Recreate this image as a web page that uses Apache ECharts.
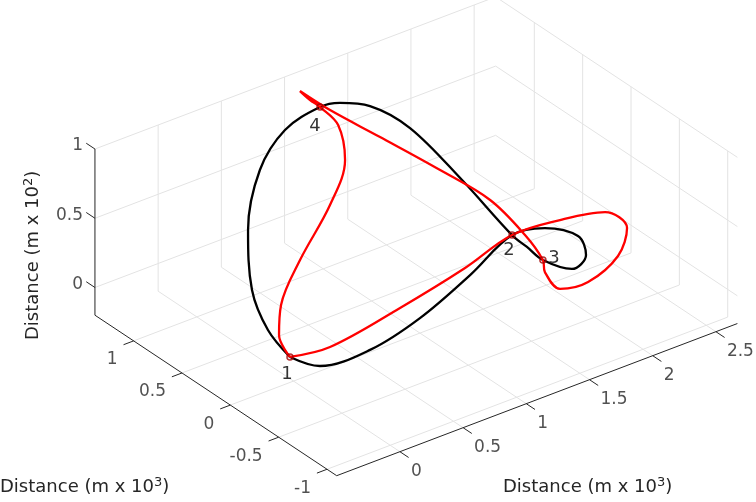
<!DOCTYPE html>
<html>
<head>
<meta charset="utf-8">
<script src="https://cdn.jsdelivr.net/npm/echarts@6/dist/echarts.min.js"></script>
<style>html,body{margin:0;padding:0;background:#fff}#main{width:756px;height:502px}</style>
</head>
<body>
<div id="main"></div>
<script>
// axis ranges and ticks
var xRange = [-0.5, 2.67], yRange = [-1.1, 1.4], zRange = [-0.2, 1];
var xTicks = [0, 0.5, 1, 1.5, 2, 2.5];
var yTicks = [-1, -0.5, 0, 0.5, 1];
var zTicks = [0, 0.5, 1];
var xTickLabels = ['0', '0.5', '1', '1.5', '2', '2.5'];
var yTickLabels = ['-1', '-0.5', '0', '0.5', '1'];
var zTickLabels = ['0', '0.5', '1'];

// trajectories [x, y, z]
var blackPath = [
	[-0.045, -0.022, 0], [0.016, -0.252, 0.02], [0.359, -0.322, 0.05], [0.799, -0.263, 0.1],
	[1.325, -0.094, 0.15], [1.787, 0.076, 0.2], [1.984, -0.006, 0.22], [2.090, -0.210, 0.22],
	[2.008, -0.400, 0.2], [1.852, -0.458, 0.18], [1.774, -0.260, 0.18], [1.719, -0.167, 0.25],
	[1.681, -0.062, 0.3], [1.637, 0.397, 0.5], [1.507, 0.765, 0.75], [1.315, 0.928, 0.9],
	[1.114, 0.976, 0.97], [0.951, 0.969, 1], [0.653, 0.942, 0.95], [0.381, 0.846, 0.8],
	[0.077, 0.571, 0.6], [-0.096, 0.304, 0.35], [-0.109, 0.122, 0.15], [-0.045, -0.022, 0]
];
var redPath = [
	[-0.045, -0.022, 0], [0.200, -0.116, 0.03], [0.796, -0.061, 0.08], [1.363, 0.008, 0.14],
	[1.787, 0.076, 0.2], [2.121, 0.017, 0.22], [2.408, -0.074, 0.22], [2.419, -0.287, 0.2],
	[2.193, -0.489, 0.17], [1.876, -0.594, 0.14], [1.693, -0.543, 0.13], [1.724, -0.346, 0.15],
	[1.774, -0.260, 0.18], [1.800, -0.041, 0.25], [1.732, 0.231, 0.4], [1.550, 0.510, 0.55],
	[1.288, 0.789, 0.75], [1.083, 1.038, 0.9], [0.971, 1.203, 1], [0.954, 1.076, 1],
	[0.951, 0.969, 1], [0.958, 0.791, 0.95], [0.833, 0.556, 0.85], [0.573, 0.372, 0.7],
	[0.268, 0.283, 0.45], [0.042, 0.184, 0.25], [-0.039, 0.099, 0.1], [-0.045, -0.022, 0]
];
var markPoints = [
	[-0.045, -0.022, 0], [1.787, 0.076, 0.2], [1.774, -0.260, 0.18], [0.951, 0.969, 1]
];
var markNames = ['1', '2', '3', '4'];

// simple fixed view projection (matches MATLAB default view)
function proj(p) {
	var u = p[0] - xRange[0], v = p[1] - yRange[0], w = p[2] - zRange[0];
	return [336.7 + u * 126.4 - v * 96.7, 475.7 - u * 48 - v * 64.2 - w * 138.5];
}
function seg(list, a, b) {
	list.push(proj(a), proj(b), '-');
}

var gridData = [];
xTicks.forEach(function (x) {
	seg(gridData, [x, yRange[0], zRange[0]], [x, yRange[1], zRange[0]]);
	seg(gridData, [x, yRange[1], zRange[0]], [x, yRange[1], zRange[1]]);
});
yTicks.forEach(function (y) {
	seg(gridData, [xRange[0], y, zRange[0]], [xRange[1], y, zRange[0]]);
	seg(gridData, [xRange[1], y, zRange[0]], [xRange[1], y, zRange[1]]);
});
zTicks.forEach(function (z) {
	seg(gridData, [xRange[0], yRange[1], z], [xRange[1], yRange[1], z]);
	seg(gridData, [xRange[1], yRange[0], z], [xRange[1], yRange[1], z]);
});

var axisData = [];
seg(axisData, [xRange[0], yRange[0], zRange[0]], [xRange[1], yRange[0], zRange[0]]);
seg(axisData, [xRange[0], yRange[0], zRange[0]], [xRange[0], yRange[1], zRange[0]]);
seg(axisData, [xRange[0], yRange[1], zRange[0]], [xRange[0], yRange[1], zRange[1]]);
xTicks.forEach(function (x) { seg(axisData, [x, yRange[0], zRange[0]], [x, yRange[0] - 0.09, zRange[0]]); });
yTicks.forEach(function (y) { seg(axisData, [xRange[0], y, zRange[0]], [xRange[0] - 0.08, y, zRange[0]]); });
zTicks.forEach(function (z) { seg(axisData, [xRange[0], yRange[1], z], [xRange[0], yRange[1] + 0.09, z]); });

var txt = '#262626', font = 'DejaVu Sans';
function tickLabels(ticks, labels, mk, align, offset) {
	return {
		type: 'scatter', symbolSize: 0, silent: true,
		data: ticks.map(function (t, i) { return { value: proj(mk(t)), name: labels[i] }; }),
		label: {
			show: true, position: 'inside', formatter: '{b}', color: txt, fontSize: 17,
			fontFamily: font, align: align, verticalAlign: 'middle', offset: offset
		}
	};
}
function curve(path, color) {
	return {
		type: 'line', data: path.map(proj), smooth: 0.35, showSymbol: false, silent: true,
		lineStyle: { color: color, width: 2.3 }
	};
}

var myChart = echarts.init(document.getElementById('main'));
var titleRich = { sup: { fontSize: 13, verticalAlign: 'bottom', padding: [0, 0, 10, 0], fontFamily: font, color: txt } };
option = {
	animation: false,
	grid: { left: 0, right: 0, top: 0, bottom: 0 },
	xAxis: { type: 'value', min: 0, max: 756, show: false },
	yAxis: { type: 'value', min: 0, max: 502, inverse: true, show: false },
	graphic: [
		{ type: 'text', left: 0, top: 476, style: { text: 'Distance (m x 10{sup|3})', rich: titleRich, fill: txt, fontSize: 18, fontFamily: font } },
		{ type: 'text', left: 503, top: 476, style: { text: 'Distance (m x 10{sup|3})', rich: titleRich, fill: txt, fontSize: 18, fontFamily: font } },
		{ type: 'text', x: 22, y: 340, rotation: Math.PI / 2, style: { text: 'Distance (m x 10{sup|2})', rich: titleRich, fill: txt, fontSize: 18, fontFamily: font } }
	],
	series: [
		{ type: 'line', data: gridData, showSymbol: false, silent: true, lineStyle: { color: '#e3e3e3', width: 1 } },
		{ type: 'line', data: axisData, showSymbol: false, silent: true, lineStyle: { color: txt, width: 1 } },
		tickLabels(xTicks, xTickLabels, function (t) { return [t, yRange[0], zRange[0]]; }, 'left', [11, 20]),
		tickLabels(yTicks, yTickLabels, function (t) { return [xRange[0], t, zRange[0]]; }, 'right', [-16, 19]),
		tickLabels(zTicks, zTickLabels, function (t) { return [xRange[0], yRange[1], t]; }, 'right', [-12, -3]),
		curve(blackPath, '#000000'),
		curve(redPath, '#ff0000'),
		{
			type: 'scatter', symbol: 'circle', symbolSize: 6, silent: true, z: 5,
			itemStyle: { color: 'rgba(0,0,0,0)', borderColor: '#a00000', borderWidth: 1.5 },
			data: markPoints.map(function (p, i) {
				var off = [[-3, 17], [-3, 15], [11, -2], [-5, 19]][i];
				return { value: proj(p), name: markNames[i], label: { offset: off } };
			}),
			label: { show: true, position: 'inside', formatter: '{b}', color: '#000', fontSize: 18, fontFamily: font }
		}
	]
};
myChart.setOption(option);
</script>
</body>
</html>
